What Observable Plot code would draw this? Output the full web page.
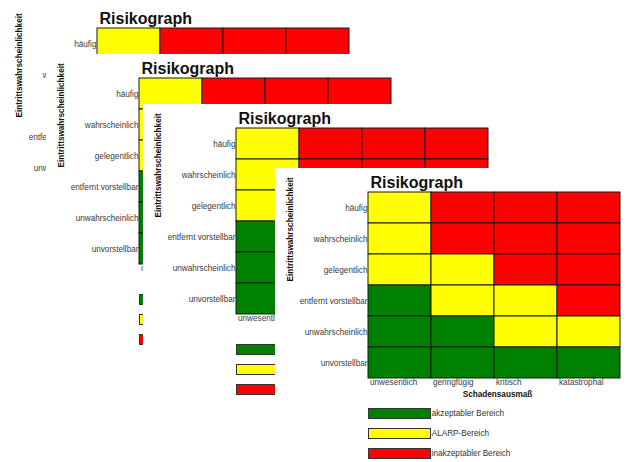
<!DOCTYPE html>
<html><head><meta charset="utf-8">
<script src="https://cdn.jsdelivr.net/npm/d3@7"></script>
<script src="https://cdn.jsdelivr.net/npm/@observablehq/plot@0.6"></script>
<style>
body{margin:0;width:626px;height:462px;overflow:hidden;background:#fff;position:relative;font-family:"Liberation Sans",Arial,sans-serif}
.panel{position:absolute;background:#fff;width:360px;height:300px}
.panel svg{position:absolute;left:0;top:0}
.sw{position:absolute;width:63px;height:11px;box-sizing:border-box;border:1px solid #333}
.lab{position:absolute;font-size:8.2px;color:#333;line-height:11px;white-space:nowrap}
</style></head><body>
<script>
// categories
const severities = ["unwesentlich", "geringfügig", "kritisch", "katastrophal"];
const likelihoods = ["häufig", "wahrscheinlich", "gelegentlich", "entfernt vorstellbar", "unwahrscheinlich", "unvorstellbar"];
// risk classes
const classes = ["akzeptabel", "ALARP", "inakzeptabel"];
const legendLabels = ["akzeptabler Bereich", "ALARP-Bereich", "inakzeptabler Bereich"];
const classColors = ["#008000", "#ffff00", "#ff0000"];
// matrix rows (one per likelihood, columns = severities)
const rowHaeufig = ["ALARP", "inakzeptabel", "inakzeptabel", "inakzeptabel"];
const rowWahrscheinlich = ["ALARP", "inakzeptabel", "inakzeptabel", "inakzeptabel"];
const rowGelegentlich = ["ALARP", "ALARP", "inakzeptabel", "inakzeptabel"];
const rowEntfernt = ["akzeptabel", "ALARP", "ALARP", "inakzeptabel"];
const rowUnwahrscheinlich = ["akzeptabel", "akzeptabel", "ALARP", "ALARP"];
const rowUnvorstellbar = ["akzeptabel", "akzeptabel", "akzeptabel", "akzeptabel"];
const titleText = "Risikograph";
const xLabel = "Schadensausmaß";
const yLabel = "Eintrittswahrscheinlichkeit";

const rows = [rowHaeufig, rowWahrscheinlich, rowGelegentlich, rowEntfernt, rowUnwahrscheinlich, rowUnvorstellbar];
const cells = [];
rows.forEach((r, i) => r.forEach((c, j) => cells.push({lik: likelihoods[i], sev: severities[j], cls: c})));

// the picture is a cascade of four identical chart windows
const offsets = [[4.3, 4.3], [46.3, 54.3], [142.7, 104.3], [274.7, 167.7]];
const GL = 93, GT = 24;

function makeChart() {
  return Plot.plot({
    width: 360, height: 240,
    marginTop: GT, marginLeft: GL, marginRight: 15, marginBottom: 30,
    style: {fontFamily: "Liberation Sans, Arial, sans-serif", fontSize: "8.2px", background: "transparent", overflow: "visible"},
    x: {domain: severities, padding: 0},
    y: {domain: likelihoods, padding: 0},
    color: {domain: classes, range: classColors},
    marks: [
      Plot.cell(cells, {x: "sev", y: "lik", fill: "cls", stroke: "#1a1a1a", strokeWidth: 1, inset: 0}),
      Plot.axisY({tickSize: 0, tickPadding: 1, fill: "#3a3a3a", label: null, fontSize: 8.2}),
      Plot.axisX({tickSize: 0, tickPadding: 1, textAnchor: "start", dx: -30, fill: "#3a3a3a", label: null, fontSize: 8.2}),
      Plot.text([titleText], {frameAnchor: "top-left", textAnchor: "start", lineAnchor: "bottom", dx: 2, dy: -5, fontSize: 16, fontWeight: "bold", fill: "#111"}),
      Plot.text([yLabel], {frameAnchor: "left", rotate: -90, dx: -78, dy: -4, fontWeight: "bold", fill: "#111", fontSize: 8.2}),
      Plot.text([xLabel], {frameAnchor: "bottom", lineAnchor: "middle", dx: 3, dy: 16, fontWeight: "bold", fill: "#111", fontSize: 8.2})
    ]
  });
}

for (const [px, py] of offsets) {
  const panel = document.createElement("div");
  panel.className = "panel";
  panel.style.left = px + "px";
  panel.style.top = py + "px";
  panel.appendChild(makeChart());
  classes.forEach((c, i) => {
    const sw = document.createElement("div");
    sw.className = "sw";
    sw.style.left = GL + "px";
    sw.style.top = (GT + 216 + i * 20) + "px";
    sw.style.background = classColors[i];
    panel.appendChild(sw);
    const lb = document.createElement("div");
    lb.className = "lab";
    lb.style.left = (GL + 64) + "px";
    lb.style.top = (GT + 216 + i * 20) + "px";
    lb.textContent = legendLabels[i];
    panel.appendChild(lb);
  });
  document.body.appendChild(panel);
}
</script>
</body></html>
